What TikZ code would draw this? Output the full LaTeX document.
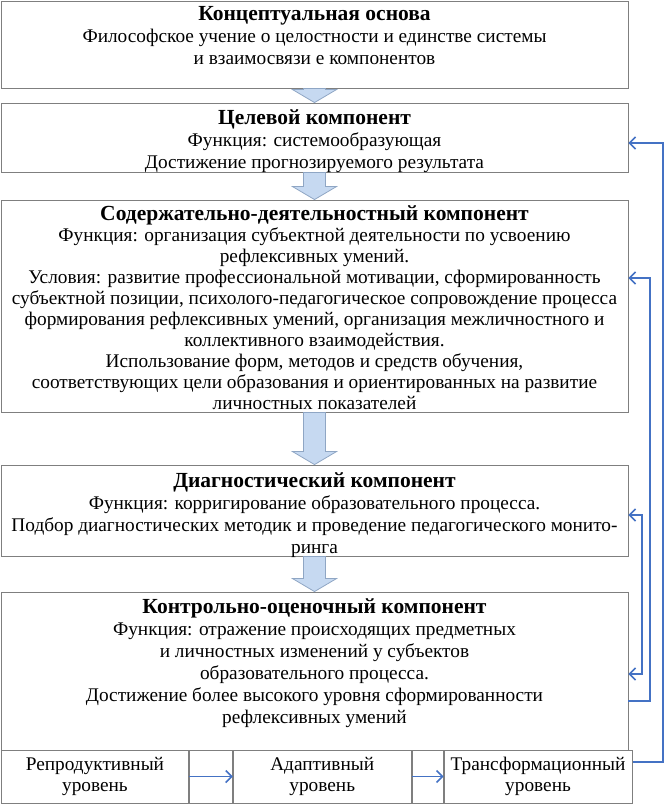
\documentclass[tikz,border=0pt]{standalone}
\usepackage{fontspec}
\setmainfont{Liberation Serif}
\usetikzlibrary{calc,arrows.meta}
\definecolor{boxgray}{HTML}{7F7F7F}
\definecolor{arrfill}{HTML}{C6D9F1}
\definecolor{arrdraw}{HTML}{8FA6C4}
\definecolor{connblue}{HTML}{4472C4}
\newcommand\ttl[1]{{\fontsize{21.5}{22}\selectfont\bfseries #1}}
\tikzset{
  txt/.style={font=\fontsize{19.3}{22}\selectfont, align=center, inner sep=0pt, anchor=north},
  frame/.style={draw=boxgray, line width=0.9pt, inner sep=0pt, minimum width=#1},
  cellbox/.style={draw=boxgray, line width=0.9pt, inner sep=0pt, minimum height=53pt, minimum width=#1, anchor=west, font=\fontsize{19.3}{21}\selectfont, align=center},
  blockarr/.style={fill=arrfill, draw=arrdraw, line width=0.8pt},
  conn/.style={draw=connblue, line width=1.5pt, line join=miter},
  barb/.style={-{Straight Barb[length=6pt,width=12pt,line width=1.5pt]}},
  barbs/.style={{Straight Barb[length=6pt,width=12pt,line width=1.5pt]}-{Straight Barb[length=6pt,width=12pt,line width=1.5pt]}}
}
\newcommand\blockarrow[2]{%
  \path[blockarr] let \p1=(#1.south), \p2=(#2.north) in
    ({\x1-11pt},\y1) -- ({\x1+11pt},\y1) -- ({\x1+11pt},{\y2+13pt}) --
    ({\x1+22pt},{\y2+13pt}) -- (\x1,\y2) -- ({\x1-22pt},{\y2+13pt}) --
    ({\x1-11pt},{\y2+13pt}) -- cycle;}
\begin{document}
\begin{tikzpicture}[x=1pt,y=-1pt]
\useasboundingbox (0,0) rectangle (666,804);
% boxes
\node[frame=627pt, minimum height=87pt] (b1) at (314.5,44.5) {};
\node[frame=627pt, minimum height=69pt] (b2) at (314.5,137.5) {};
\node[frame=627pt, minimum height=212pt] (b3) at (314.5,306) {};
\node[frame=627pt, minimum height=91pt] (b4) at (314.5,510.5) {};
\node[frame=627pt, minimum height=158pt] (b5) at (314.5,671) {};
% texts
\node[txt] (t1) at ([yshift=-6pt]b1.north) {\ttl{Концептуальная основа}\\Философское учение о целостности и единстве системы\\и взаимосвязи е компонентов};
\node[txt] (t2) at ([yshift=-7pt]b2.north) {\ttl{Целевой компонент}\\Функция: системообразующая\\Достижение прогнозируемого результата};
\node[txt, font=\fontsize{19.3}{21}\selectfont] (t3) at ([yshift=-6pt]b3.north) {\ttl{Содержательно-деятельностный компонент}\\Функция: организация субъектной деятельности по усвоению\\рефлексивных умений.\\Условия: развитие профессиональной мотивации, сформированность\\субъектной позиции, психолого-педагогическое сопровождение процесса\\формирования рефлексивных умений, организация межличностного и\\коллективного взаимодействия.\\Использование форм, методов и средств обучения,\\соответствующих цели образования и ориентированных на развитие\\личностных показателей};
\node[txt] (t4) at ([yshift=-8pt]b4.north) {\ttl{Диагностический компонент}\\Функция: корригирование образовательного процесса.\\Подбор диагностических методик и проведение педагогического монито-\\ринга};
\node[txt] (t5) at ([yshift=-7pt]b5.north) {\ttl{Контрольно-оценочный компонент}\\Функция: отражение происходящих предметных\\и личностных изменений у субъектов\\образовательного процесса.\\Достижение более высокого уровня сформированности\\рефлексивных умений};
% level cells
\node[cellbox=187pt] (l1) at (1,776.5) {Репродуктивный\\уровень};
\node[cellbox=43pt] (g1) at (l1.east) {};
\node[cellbox=178pt] (l2) at (g1.east) {Адаптивный\\уровень};
\node[cellbox=31pt] (g2) at (l2.east) {};
\node[cellbox=188pt] (l3) at (g2.east) {Трансформационный\\уровень};
\draw[conn,barb] (l1.east) -- (l2.west);
\draw[conn,barb] (l2.east) -- (l3.west);
% block arrows
\blockarrow{b1}{b2}
\blockarrow{b2}{b3}
\blockarrow{b3}{b4}
\blockarrow{b4}{b5}
% feedback connectors
\draw[conn,barb] (l3.east |- 0,762) -- (663,762) -- (663,143) -- (b2.east |- 0,143);
\draw[conn,barb] (b5.east |- 0,701) -- (650,701) -- (650,278) -- (b3.east |- 0,278);
\draw[conn,barbs] (b5.east |- 0,674) -- (642,674) -- (642,515) -- (b4.east |- 0,515);
\end{tikzpicture}
\end{document}
